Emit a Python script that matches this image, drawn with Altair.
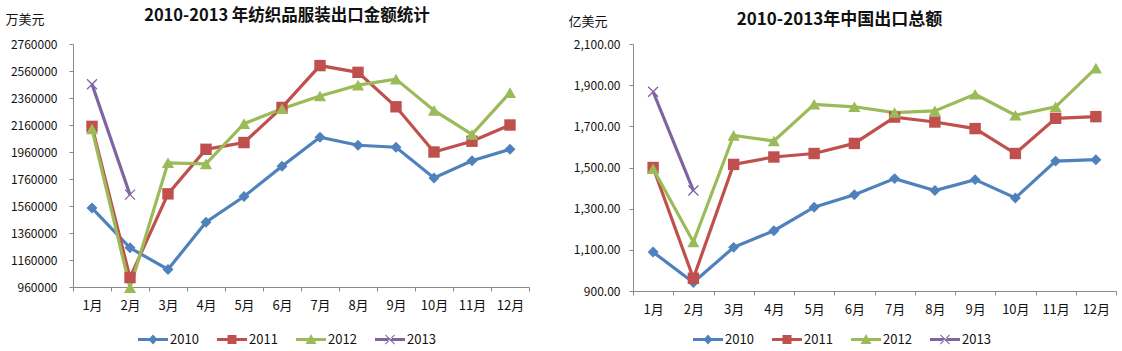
import altair as alt
import pandas as pd

months = ["1月", "2月", "3月", "4月", "5月", "6月", "7月", "8月", "9月", "10月", "11月", "12月"]
series = ["2010", "2011", "2012", "2013"]
colors = ["#4F81BD", "#C0504D", "#9BBB59", "#8064A2"]

# 纺织品服装出口金额 (万美元)
tex_2010 = [1545000, 1250000, 1090000, 1440000, 1630000, 1855000, 2070000, 2010000, 1995000, 1768000, 1895000, 1980000]
tex_2011 = [2150000, 1030000, 1650000, 1980000, 2030000, 2290000, 2600000, 2550000, 2295000, 1960000, 2040000, 2160000]
tex_2012 = [2130000, 955000, 1880000, 1872000, 2170000, 2280000, 2375000, 2455000, 2500000, 2268000, 2090000, 2400000]
tex_2013 = [2462000, 1644000]

# 中国出口总额 (亿美元)
exp_2010 = [1089, 941, 1112, 1193, 1307, 1368, 1446, 1388, 1441, 1352, 1531, 1538]
exp_2011 = [1500, 962, 1515, 1551, 1568, 1617, 1745, 1721, 1689, 1568, 1739, 1747]
exp_2012 = [1494, 1138, 1656, 1629, 1807, 1795, 1767, 1775, 1856, 1754, 1795, 1983]
exp_2013 = [1868, 1388]

tex_ticks = [960000, 1160000, 1360000, 1560000, 1760000, 1960000, 2160000, 2360000, 2560000, 2760000]
exp_ticks = [900, 1100, 1300, 1500, 1700, 1900, 2100]

FONT = "Noto Sans CJK SC"

marker_shapes = ["diamond", "square", "triangle-up", "M-1,-1L1,1M-1,1L1,-1"]
marker_sizes = [120, 130, 150, 100]
marker_filled = [True, True, True, False]

# legend symbols: line segment with the series marker in the middle
LINE = "M-1,-0.1H1V0.1H-1Z"
legend_paths = [
    LINE + "M0,-0.34L0.3,0L0,0.34L-0.3,0Z",
    LINE + "M-0.3,-0.3H0.3V0.3H-0.3Z",
    LINE + "M0,-0.36L0.36,0.3H-0.36Z",
    LINE + "M-0.33,-0.28L-0.28,-0.33L0.33,0.28L0.28,0.33ZM-0.33,0.28L-0.28,0.33L0.33,-0.28L0.28,-0.33Z",
]


def long_df(vals):
    rows = []
    for s, arr in zip(series, vals):
        for m, v in zip(months, arr):
            rows.append({"month": m, "series": s, "value": v})
    return pd.DataFrame(rows)


def panel(df, title, title_size, title_dx, title_offset, unit, unit_x, unit_y, domain, ticks, fmt,
          width, height, lab_pad, legend_x, legend_y):
    x = alt.X("month:O", sort=months,
              scale=alt.Scale(type="band", paddingInner=0, paddingOuter=0, domain=months),
              axis=alt.Axis(title=None, tickBand="extent", labelAngle=0, tickSize=4,
                            labelPadding=8, labelFontSize=13, labelFont=FONT,
                            labelColor="#111", domainColor="#8a8a8a", tickColor="#8a8a8a",
                            grid=False))
    y = alt.Y("value:Q",
              scale=alt.Scale(domain=domain, nice=False, zero=False),
              axis=alt.Axis(title=unit, titleAngle=0, titleAlign="left", titleBaseline="middle",
                            titleX=unit_x, titleY=unit_y, titleFont=FONT, titleFontSize=13,
                            titleFontWeight="normal", titleColor="#111",
                            values=ticks, format=fmt, tickSize=4, labelPadding=lab_pad,
                            labelFontSize=12, labelFont=FONT, labelColor="#111",
                            domainColor="#8a8a8a", tickColor="#8a8a8a", grid=False))
    base = alt.Chart(df)
    layers = []
    for s, c in zip(series, colors):
        layers.append(base.transform_filter(alt.datum.series == s)
                      .mark_line(strokeWidth=3.2, color=c).encode(x=x, y=y))
    for s, c, shp, sz, fl in zip(series, colors, marker_shapes, marker_sizes, marker_filled):
        pts = base.transform_filter(alt.datum.series == s).mark_point(
            shape=shp, size=sz, filled=fl, color=c, opacity=1,
            strokeWidth=1.3 if not fl else 0,
        ).encode(x=x, y=y)
        layers.append(pts)
    leg = alt.Legend(title=None, orient="none", legendX=legend_x, legendY=legend_y,
                     direction="horizontal", symbolSize=900, symbolStrokeWidth=0,
                     symbolOpacity=1, labelFontSize=13, labelFont=FONT, labelColor="#111",
                     labelOffset=2, columnPadding=18)
    legend_layer = base.mark_point(filled=True, opacity=0).encode(
        x=x, y=y,
        color=alt.Color("series:N", scale=alt.Scale(domain=series, range=colors), legend=leg),
        shape=alt.Shape("series:N", scale=alt.Scale(domain=series, range=legend_paths), legend=leg),
    )
    layers.append(legend_layer)
    return alt.layer(*layers).properties(
        width=width, height=height,
        title=alt.TitleParams(title, font=FONT, fontSize=title_size, fontWeight="bold", color="#111",
                              anchor="middle", dx=title_dx, dy=2, offset=title_offset),
    )


left = panel(long_df([tex_2010, tex_2011, tex_2012, tex_2013]),
             "2010-2013 年纺织品服装出口金额统计", 16.5, -14, -8.5, "万美元", -68, -24.5,
             [960000, 2760000], tex_ticks, "d", 456, 243, 12, 65, 280.5)
right = panel(long_df([exp_2010, exp_2011, exp_2012, exp_2013]),
              "2010-2013年中国出口总额", 17, -35, -11.5, "亿美元", -65, -22.5,
              [900, 2100], exp_ticks, ",.2f", 483, 247, 9, 60, 280.5)

chart = alt.hconcat(left, right, spacing=38).resolve_scale(
    color="independent", shape="independent", y="independent", x="independent"
).properties(
    padding={"left": 5, "top": 7, "right": 0, "bottom": 0},
    background="white",
).configure_view(stroke=None)

chart.save("out.html", embed_options={"renderer": "svg", "actions": False})
